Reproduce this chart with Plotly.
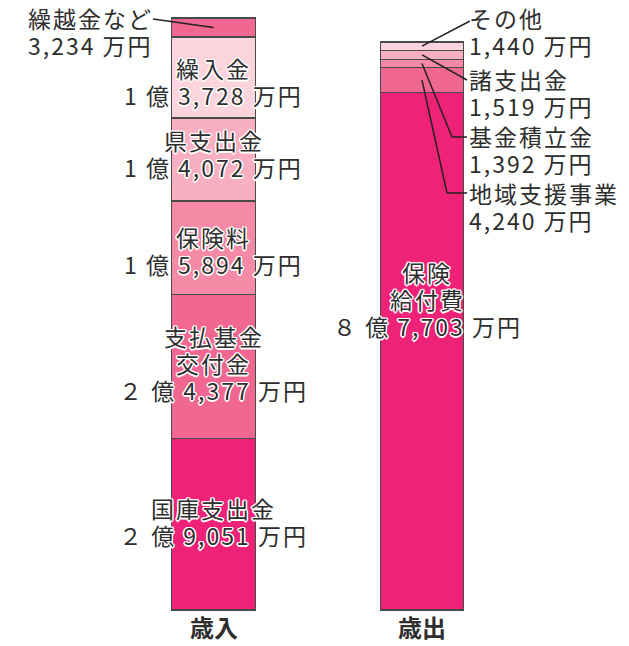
import plotly.graph_objects as go

# ---- data (万円) ----
rev_names = ["国庫支出金", "支払基金交付金", "保険料", "県支出金", "繰入金", "繰越金など"]
rev_values = [29051, 24377, 15894, 14072, 13728, 3234]
rev_labels = [["国庫支出金", "２ 億 9,051 万円"],
              ["支払基金", "交付金", "２ 億 4,377 万円"],
              ["保険料", "1 億 5,894 万円"],
              ["県支出金", "1 億 4,072 万円"],
              ["繰入金", "1 億 3,728 万円"],
              ["繰越金など", "3,234 万円"]]
rev_colors = ["#ee2277", "#f06792", "#f48aa5", "#f7afc1", "#fbd4de", "#f06792"]

exp_names = ["保険給付費", "地域支援事業", "基金積立金", "諸支出金", "その他"]
exp_values = [87703, 4240, 1392, 1519, 1440]
exp_labels = [["保険", "給付費", "８ 億 7,703 万円"],
              ["地域支援事業", "4,240 万円"],
              ["基金積立金", "1,392 万円"],
              ["諸支出金", "1,519 万円"],
              ["その他", "1,440 万円"]]
exp_colors = ["#ee2277", "#f06792", "#f48aa5", "#f7afc1", "#fbd4de"]

categories = ["歳入", "歳出"]

# ---- layout geometry ----
W, H = 629, 646
PLOT_TOP, PLOT_BOT = 18, 610
total_rev = sum(rev_values)
X0_PX, X1_PX = 213.5, 422.0
unit = X1_PX - X0_PX
LS = 27  # line spacing in px


def xdata(px):
    return (px - X0_PX) / unit


def ydata(py):
    return (PLOT_BOT - py) / (PLOT_BOT - PLOT_TOP) * total_rev


FONT = "Noto Sans CJK JP, Noto Sans CJK SC, sans-serif"
TXT = "#2e2e2e"
HALO = ("1px 1px 0 #fff, -1px -1px 0 #fff, 1px -1px 0 #fff, -1px 1px 0 #fff, "
        "0 1.5px 0 #fff, 0 -1.5px 0 #fff, 1.5px 0 0 #fff, -1.5px 0 0 #fff")
BAR_W = 0.40

fig = go.Figure()
for n, v, c in zip(rev_names, rev_values, rev_colors):
    fig.add_trace(go.Bar(x=[0], y=[v], name=n, marker=dict(color=c, line=dict(color="#4a4a4a", width=1.2)),
                         width=BAR_W, hoverinfo="skip", showlegend=False))
for n, v, c in zip(exp_names, exp_values, exp_colors):
    fig.add_trace(go.Bar(x=[1], y=[v], name=n, marker=dict(color=c, line=dict(color="#4a4a4a", width=1.2)),
                         width=BAR_W, hoverinfo="skip", showlegend=False))

annotations = []
shapes = []


def add_label(lines, x, center_py, xanchor="center"):
    n = len(lines)
    for k, line in enumerate(lines):
        py = center_py + (k - (n - 1) / 2) * LS
        annotations.append(dict(x=x, y=ydata(py), text=line, showarrow=False, xanchor=xanchor,
                                yanchor="middle", align=xanchor if xanchor != "center" else "center",
                                font=dict(family=FONT, size=23, color=TXT, shadow=HALO)))


# revenue
cum = 0
rev_mids = []
for v in rev_values:
    rev_mids.append(cum + v / 2)
    cum += v
rev_centers = [521, 363, 250, 153, 81, None]
for i, lab in enumerate(rev_labels):
    if rev_centers[i] is None:
        add_label(lab, xdata(90), 31)
        shapes.append(dict(type="line", x0=xdata(153), y0=ydata(19), x1=0, y1=rev_mids[i],
                           line=dict(color="#222", width=1.5)))
    else:
        add_label(lab, 0, rev_centers[i])

# expenditure
cum = 0
exp_mids = []
for v in exp_values:
    exp_mids.append(cum + v / 2)
    cum += v
add_label(exp_labels[0], xdata(427), 298.5)

right_label_y = {4: 31, 3: 92.5, 2: 149.5, 1: 206.5}
line_start = {4: (470, 21, None), 3: (467, 80, None), 2: (452, 137, 467), 1: (447, 193, 467)}
for i in [1, 2, 3, 4]:
    add_label(exp_labels[i], xdata(467), right_label_y[i], xanchor="left")
    px, py, hx = line_start[i]
    shapes.append(dict(type="line", x0=1, y0=exp_mids[i], x1=xdata(px), y1=ydata(py),
                       line=dict(color="#222", width=1.5)))
    if hx is not None:
        shapes.append(dict(type="line", x0=xdata(px), y0=ydata(py), x1=xdata(hx), y1=ydata(py),
                           line=dict(color="#222", width=1.5)))

# category labels
for xi, cat in enumerate(categories):
    annotations.append(dict(x=xi, y=ydata(626), text="<b>" + cat + "</b>", showarrow=False,
                            xanchor="center", yanchor="middle",
                            font=dict(family=FONT, size=24, color=TXT)))

fig.update_layout(
    barmode="stack",
    width=W, height=H,
    margin=dict(l=0, r=0, t=0, b=0, pad=0),
    paper_bgcolor="white", plot_bgcolor="white",
    xaxis=dict(range=[xdata(0), xdata(W)], visible=False, fixedrange=True),
    yaxis=dict(range=[ydata(H), ydata(0)], visible=False, fixedrange=True),
    annotations=annotations,
    shapes=shapes,
)

post = ("document.body.style.margin='0';document.body.style.overflow='hidden';"
        "document.querySelectorAll('.annotation-text').forEach(function(e){"
        "if(e.textContent.indexOf('歳')<0){e.style.letterSpacing='2px';}});")
fig.write_html("out.html", post_script=post, config={"displayModeBar": False, "staticPlot": True})
